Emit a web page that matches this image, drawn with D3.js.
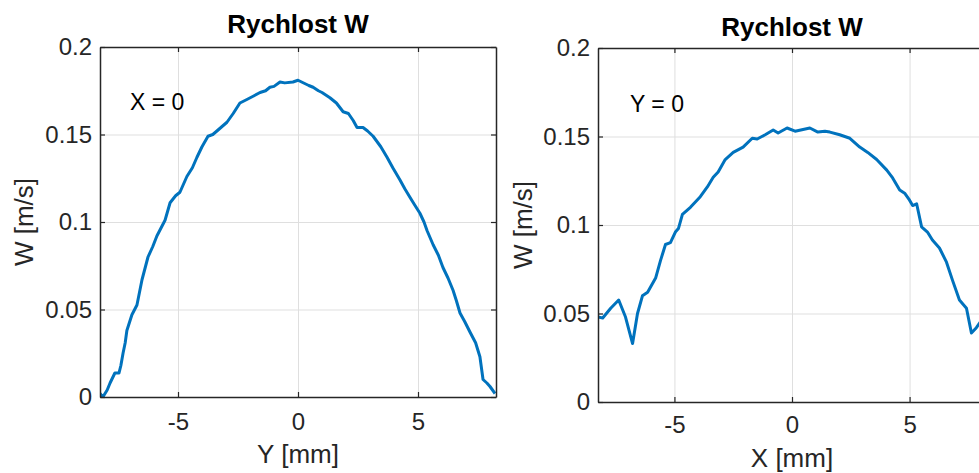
<!DOCTYPE html>
<html>
<head>
<meta charset="utf-8">
<script src="https://cdn.jsdelivr.net/npm/d3@7/dist/d3.min.js"></script>
<style>
  body { margin: 0; background: #fff; }
  svg { display: block; font-family: "Liberation Sans", Arial, Helvetica, sans-serif; }
</style>
</head>
<body>
<div id="chart"></div>
<script>
const titleText = "Rychlost W";
const yLabelText = "W [m/s]";
const xTicks = [-5, 0, 5];
const yTicks = [0, 0.05, 0.1, 0.15, 0.2];
const xDomain = [-8.25, 8.25];
const yDomain = [0, 0.2];

// profile along Y, X = 0
const posY = [-8.25, -8.13, -7.95, -7.83, -7.63, -7.46, -7.38, -7.29, -7.2, -7.13,
    -6.92, -6.71, -6.5, -6.25, -6.05, -5.88, -5.54, -5.33, -5.1, -4.92,
    -4.63, -4.4, -4.21, -4.0, -3.75, -3.55, -3.38, -2.96, -2.7, -2.42,
    -2.13, -1.85, -1.58, -1.35, -1.17, -1.0, -0.75, -0.55, -0.21, 0,
    0.15, 0.45, 0.63, 0.85, 1.0, 1.33, 1.6, 1.88, 2.1, 2.3,
    2.46, 2.71, 2.9, 3.13, 3.45, 3.71, 3.95, 4.25, 4.45, 4.67,
    4.85, 5.08, 5.25, 5.38, 5.63, 5.85, 6.04, 6.25, 6.46, 6.6,
    6.75, 6.95, 7.17, 7.4, 7.58, 7.71, 7.87, 8.0, 8.21];
const wAlongY = [0.002, 0.0, 0.004, 0.008, 0.0137, 0.0137, 0.018, 0.025, 0.031, 0.038,
    0.047, 0.0526, 0.067, 0.080, 0.086, 0.092, 0.101, 0.111, 0.115, 0.117,
    0.126, 0.131, 0.137, 0.143, 0.149, 0.150, 0.152, 0.157, 0.162, 0.168,
    0.170, 0.172, 0.174, 0.175, 0.177, 0.1775, 0.180, 0.1795, 0.180, 0.181,
    0.180, 0.178, 0.177, 0.175, 0.174, 0.171, 0.168, 0.163, 0.162, 0.158,
    0.154, 0.154, 0.152, 0.149, 0.143, 0.137, 0.131, 0.124, 0.119, 0.114,
    0.110, 0.105, 0.100, 0.095, 0.087, 0.081, 0.074, 0.068, 0.061, 0.055,
    0.048, 0.043, 0.037, 0.031, 0.023, 0.010, 0.008, 0.006, 0.002];

// profile along X, Y = 0
const posX = [-8.26, -8.05, -7.71, -7.37, -7.08, -6.78, -6.57, -6.36, -6.14, -5.8,
    -5.59, -5.38, -5.17, -4.96, -4.83, -4.66, -4.32, -3.9, -3.6, -3.35,
    -3.14, -2.84, -2.5, -2.08, -1.69, -1.48, -1.14, -0.8, -0.59, -0.21,
    0.13, 0.47, 0.76, 1.1, 1.4, 1.61, 2.03, 2.46, 2.88, 3.22,
    3.6, 4.03, 4.28, 4.58, 4.79, 5.0, 5.13, 5.3, 5.51, 5.76,
    5.97, 6.27, 6.57, 6.82, 7.12, 7.42, 7.63, 7.84, 8.05, 8.25];
const wAlongX = [0.048, 0.0475, 0.053, 0.0576, 0.048, 0.033, 0.050, 0.060, 0.062, 0.070,
    0.080, 0.089, 0.090, 0.096, 0.098, 0.106, 0.110, 0.116, 0.1215, 0.127,
    0.130, 0.137, 0.141, 0.144, 0.149, 0.1486, 0.151, 0.1537, 0.152, 0.1548,
    0.153, 0.154, 0.1548, 0.1525, 0.153, 0.1525, 0.151, 0.149, 0.144, 0.141,
    0.137, 0.131, 0.1266, 0.1198, 0.118, 0.114, 0.111, 0.112, 0.099, 0.096,
    0.0915, 0.087, 0.079, 0.069, 0.0576, 0.053, 0.039, 0.042, 0.046, 0.048];

const axisColor = "#262626";
const lineColor = "#0072bd";

const svg = d3.select("#chart")
    .append("svg")
    .attr("width", 979)
    .attr("height", 473);

function drawPanel(p) {
    const x = d3.scaleLinear().domain(xDomain).range([p.x0, p.x1]);
    const y = d3.scaleLinear().domain(yDomain).range([p.y1, p.y0]);
    const w = p.x1 - p.x0;
    const h = p.y1 - p.y0;

    const g = svg.append("g");

    // grid
    g.append("g")
        .attr("transform", `translate(0,${p.y1})`)
        .call(d3.axisBottom(x).tickValues(xTicks).tickSize(-h).tickFormat(""))
        .call(s => s.select(".domain").remove())
        .selectAll("line").attr("stroke", "#dfdfdf");
    g.append("g")
        .attr("transform", `translate(${p.x0},0)`)
        .call(d3.axisLeft(y).tickValues(yTicks).tickSize(-w).tickFormat(""))
        .call(s => s.select(".domain").remove())
        .selectAll("line").attr("stroke", "#dfdfdf");

    // data line
    const clipId = "clip-" + p.id;
    g.append("clipPath").attr("id", clipId)
        .append("rect")
        .attr("x", p.x0).attr("y", p.y0)
        .attr("width", w).attr("height", h);

    const line = d3.line()
        .x((d, i) => x(p.xs[i]))
        .y(d => y(d));

    g.append("path")
        .datum(p.ws)
        .attr("clip-path", `url(#${clipId})`)
        .attr("fill", "none")
        .attr("stroke", lineColor)
        .attr("stroke-width", 3)
        .attr("stroke-linejoin", "round")
        .attr("d", line);

    // axes (ticks inward, box on)
    const bottom = g.append("g")
        .attr("transform", `translate(0,${p.y1})`)
        .call(d3.axisBottom(x).tickValues(xTicks).tickSizeInner(-5).tickSizeOuter(0)
            .tickPadding(p.xPad).tickFormat(d => String(d)));
    const left = g.append("g")
        .attr("transform", `translate(${p.x0},0)`)
        .call(d3.axisLeft(y).tickValues(yTicks).tickSizeInner(-5).tickSizeOuter(0)
            .tickPadding(8).tickFormat(d => String(d)));
    const top = g.append("g")
        .attr("transform", `translate(0,${p.y0})`)
        .call(d3.axisTop(x).tickValues(xTicks).tickSizeInner(-5).tickSizeOuter(0).tickFormat(""));
    const right = g.append("g")
        .attr("transform", `translate(${p.x1},0)`)
        .call(d3.axisRight(y).tickValues(yTicks).tickSizeInner(-5).tickSizeOuter(0).tickFormat(""));

    [bottom, left, top, right].forEach(a => {
        a.select(".domain").attr("stroke", axisColor).attr("stroke-width", 1.5);
        a.selectAll(".tick line").attr("stroke", axisColor).attr("stroke-width", 1.2);
        a.selectAll("text")
            .attr("fill", axisColor)
            .attr("font-size", 24)
            .attr("font-family", "Liberation Sans, Arial, sans-serif");
    });

    // title
    g.append("text")
        .attr("x", x(0))
        .attr("y", p.titleY)
        .attr("text-anchor", "middle")
        .attr("font-size", 26)
        .attr("font-weight", "bold")
        .attr("fill", "#000")
        .text(titleText);

    // axis labels
    g.append("text")
        .attr("x", x(0))
        .attr("y", p.xLabelY)
        .attr("text-anchor", "middle")
        .attr("font-size", 26)
        .attr("fill", axisColor)
        .text(p.xLabel);

    g.append("text")
        .attr("transform", `translate(${p.yLabelX},${(p.y0 + p.y1) / 2}) rotate(-90)`)
        .attr("text-anchor", "middle")
        .attr("font-size", 26)
        .attr("fill", axisColor)
        .text(yLabelText);

    // annotation
    g.append("text")
        .attr("x", p.noteX)
        .attr("y", p.noteY)
        .attr("font-size", 23)
        .attr("fill", "#000")
        .text(p.note);
}

drawPanel({
    id: "a", x0: 100, x1: 496, y0: 47, y1: 397,
    xs: posY, ws: wAlongY,
    xPad: 16, titleY: 33, xLabel: "Y [mm]", xLabelY: 463, yLabelX: 33,
    note: "X = 0", noteX: 130, noteY: 110
});

drawPanel({
    id: "b", x0: 598, x1: 986, y0: 48, y1: 402,
    xs: posX, ws: wAlongX,
    xPad: 14, titleY: 36, xLabel: "X [mm]", xLabelY: 467, yLabelX: 532,
    note: "Y = 0", noteX: 630, noteY: 112
});
</script>
</body>
</html>
